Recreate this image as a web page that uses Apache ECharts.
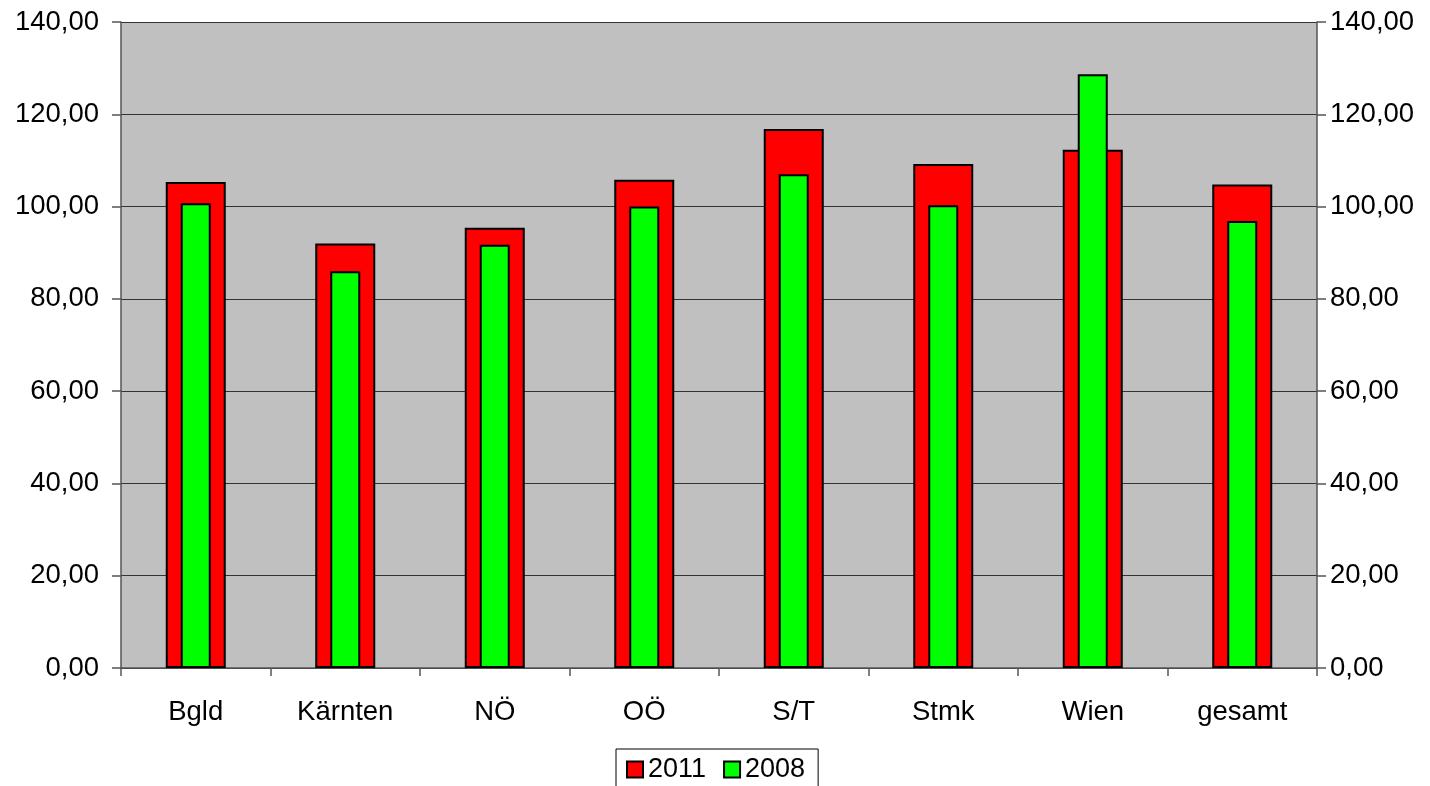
<!DOCTYPE html>
<html>
<head>
<meta charset="utf-8">
<script src="https://cdn.jsdelivr.net/npm/echarts@6/dist/echarts.min.js"></script>
<style>html,body{margin:0;padding:0;background:#fff;}#c{width:1430px;height:786px;}</style>
</head>
<body>
<div id="c"></div>
<script>
const categories = ['Bgld', 'Kärnten', 'NÖ', 'OÖ', 'S/T', 'Stmk', 'Wien', 'gesamt'];
const values2011 = [105.3, 92.0, 95.4, 105.8, 116.8, 109.2, 112.3, 104.8];
const values2008 = [100.7, 86.0, 91.7, 100.0, 107.0, 100.3, 128.7, 96.9];
const yTicks = [0, 20, 40, 60, 80, 100, 120, 140];

const fmt = v => v.toFixed(2).replace('.', ',');
const font = '"Liberation Sans", Arial, sans-serif';
const chart = echarts.init(document.getElementById('c'));
const yAxisBase = {
  type: 'value', min: yTicks[0], max: yTicks[yTicks.length - 1], interval: 20,
  axisLine: { show: true, lineStyle: { color: '#555', width: 1.5 } },
  axisTick: { show: true, length: 9, lineStyle: { color: '#555', width: 1.5 } },
  axisLabel: { formatter: fmt, fontSize: 27.5, color: '#000', fontFamily: font, margin: 22 },
  splitLine: { show: true, lineStyle: { color: '#333', width: 1.2 } }
};
chart.setOption({
  animation: false,
  grid: { left: 121, right: 113, top: 22, bottom: 118, show: true, backgroundColor: '#C0C0C0', borderWidth: 0 },
  legend: {
    data: ['2011', '2008'], top: 749, left: 616,
    borderColor: '#000', borderWidth: 1, padding: [7, 13, 8, 10],
    itemWidth: 16, itemHeight: 16, itemGap: 17,
    textStyle: { fontSize: 27, color: '#000', fontFamily: font },
    icon: 'rect'
  },
  xAxis: [
    {
      type: 'category', data: categories,
      axisLine: { show: true, lineStyle: { color: '#555', width: 1.5 } },
      axisTick: { show: true, length: 8, alignWithLabel: false, lineStyle: { color: '#555', width: 1.5 } },
      axisLabel: { fontSize: 27.5, color: '#000', fontFamily: font, margin: 30 }
    },
    { type: 'category', data: categories, show: false }
  ],
  yAxis: [
    Object.assign({ position: 'left' }, yAxisBase),
    Object.assign({ position: 'right' }, yAxisBase, {
      splitLine: { show: false },
      axisLabel: { formatter: fmt, fontSize: 27.5, color: '#000', fontFamily: font, margin: 13 }
    })
  ],
  series: [
    {
      name: '2011', type: 'bar', data: values2011, xAxisIndex: 0, yAxisIndex: 0,
      barWidth: 60, itemStyle: { color: '#FF0000', borderColor: '#000', borderWidth: 2 }
    },
    {
      name: '2008', type: 'bar', data: values2008, xAxisIndex: 1, yAxisIndex: 0,
      barWidth: 30, itemStyle: { color: '#00FF00', borderColor: '#000', borderWidth: 2 }
    }
  ]
});
</script>
</body>
</html>
